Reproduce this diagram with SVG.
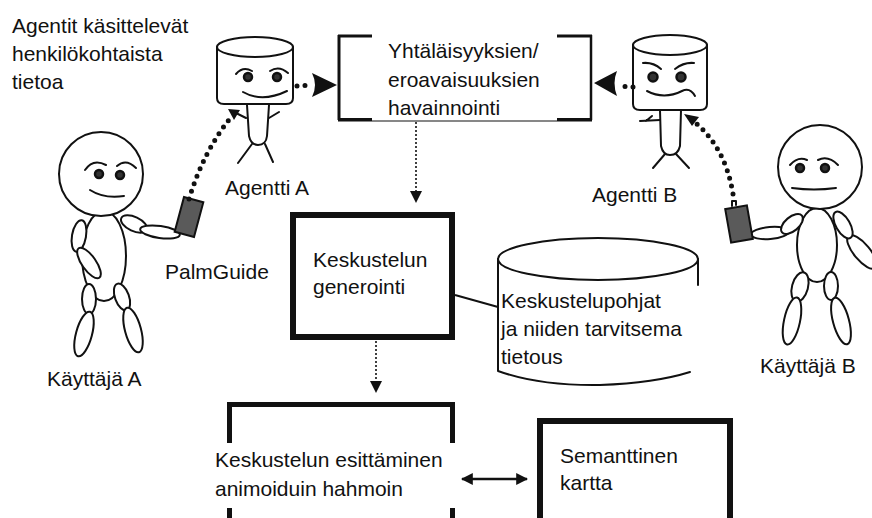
<svg xmlns="http://www.w3.org/2000/svg" width="872" height="518" viewBox="0 0 872 518">
  <defs>
    <style>
      text { font-family: "Liberation Sans", Arial, sans-serif; font-size: 21px; fill: #111; }
      .ln { fill: none; stroke: #111; stroke-width: 2; stroke-linecap: round; stroke-linejoin: round; }
      .limb { fill: #fff; stroke: #111; stroke-width: 2; }
      .eye { fill: #333; stroke: #111; stroke-width: 2.5; }
      .phone { fill: #5a5a5a; stroke: #111; stroke-width: 2; }
      .bigdots { fill: none; stroke: #111; stroke-width: 5; stroke-linecap: round; stroke-dasharray: 0 8; }
      .thin { fill: none; stroke: #111; stroke-width: 1.6; stroke-dasharray: 2 2; }
      .thick { fill: none; stroke: #111; stroke-width: 6; }
      .head { fill: #111; }
    </style>
    <marker id="tri" viewBox="0 0 10 10" refX="9" refY="5" markerWidth="10" markerHeight="10" markerUnits="userSpaceOnUse" orient="auto">
      <path d="M0,0 L10,5 L0,10 Z" fill="#111"/>
    </marker>
    <marker id="tri2" viewBox="0 0 10 10" refX="9" refY="5" markerWidth="12" markerHeight="12" markerUnits="userSpaceOnUse" orient="auto-start-reverse">
      <path d="M0,0 L10,5 L0,10 Z" fill="#111"/>
    </marker>
  </defs>

  <rect width="872" height="518" fill="#fff"/>

  <!-- caption -->
  <g id="caption">
    <text x="12" y="33">Agentit käsittelevät</text>
    <text x="12" y="61">henkilökohtaista</text>
    <text x="12" y="89">tietoa</text>
  </g>

  <!-- comparison box -->
  <g id="node-compare">
    <line x1="339" y1="35" x2="339" y2="120" stroke="#111" stroke-width="3"/>
    <line x1="591" y1="35" x2="591" y2="120" stroke="#111" stroke-width="2.5"/>
    <line x1="338" y1="36" x2="372" y2="36" stroke="#111" stroke-width="3"/>
    <line x1="557" y1="36" x2="592" y2="36" stroke="#111" stroke-width="3"/>
    <line x1="338" y1="121" x2="592" y2="121" stroke="#111" stroke-width="1.2"/>
    <line x1="338" y1="119.5" x2="372" y2="119.5" stroke="#111" stroke-width="3"/>
    <line x1="557" y1="119.5" x2="592" y2="119.5" stroke="#111" stroke-width="3"/>
    <text x="388" y="58">Yhtäläisyyksien/</text>
    <text x="388" y="87">eroavaisuuksien</text>
    <text x="388" y="115">havainnointi</text>
  </g>

  <!-- agent A -->
  <g id="node-agent-a">
    <path class="ln" d="M217,47 L217,98 Q217,104 224,104 L286,104 Q293,104 293,98 L293,47"/>
    <ellipse cx="255" cy="47" rx="38" ry="10" class="ln"/>
    <path class="ln" d="M236,74 Q243,66 252,71"/>
    <path class="ln" d="M270,71 Q279,65 288,73"/>
    <circle cx="248" cy="77" r="4" class="eye"/>
    <circle cx="277" cy="77" r="4" class="eye"/>
    <path class="ln" d="M243,92 Q262,103 287,91"/>
    <path class="ln" d="M247,105 L249,136 Q251,145 258,145 Q266,145 267,136 L269,105"/>
    <path class="ln" d="M252,144 L238,163 M265,144 L273,162"/>
    <path class="ln" d="M234,112 L246,118 M269,118 L279,112"/>
    <text x="225" y="195">Agentti A</text>
  </g>

  <!-- agent B -->
  <g id="node-agent-b">
    <path class="ln" d="M633,45 L633,104 Q633,110 640,110 L700,110 Q707,110 707,104 L707,45"/>
    <ellipse cx="670" cy="45" rx="37" ry="10" class="ln"/>
    <path class="ln" d="M643,63 Q653,62 661,69"/>
    <path class="ln" d="M675,69 Q684,62 694,63"/>
    <circle cx="653" cy="77" r="4.5" class="eye"/>
    <circle cx="681" cy="77" r="4.5" class="eye"/>
    <path class="ln" d="M647,91 Q664,100 682,91 Q690,87 695,96"/>
    <path class="ln" d="M660,110 L661,146 Q663,155 670,155 Q678,155 680,146 L681,110"/>
    <path class="ln" d="M665,154 L653,168 M676,154 L689,168"/>
    <path class="ln" d="M640,121 L660,120 M652,116 L646,121"/>
    <text x="592" y="202">Agentti B</text>
  </g>

  <!-- user A -->
  <g id="node-user-a">
    <ellipse cx="104" cy="256" rx="22" ry="45" class="limb"/>
    <ellipse cx="79" cy="236" rx="7" ry="16" transform="rotate(10 79 236)" class="limb"/>
    <ellipse cx="89" cy="263" rx="18" ry="7" transform="rotate(55 89 263)" class="limb"/>
    <ellipse cx="89" cy="299" rx="7" ry="15" class="limb"/>
    <ellipse cx="122" cy="297" rx="7" ry="14" transform="rotate(-20 122 297)" class="limb"/>
    <ellipse cx="84" cy="334" rx="8" ry="23" transform="rotate(15 84 334)" class="limb"/>
    <ellipse cx="133" cy="330" rx="8" ry="23" transform="rotate(-15 133 330)" class="limb"/>
    <ellipse cx="134" cy="224" rx="14" ry="7" transform="rotate(25 134 224)" class="limb"/>
    <ellipse cx="160" cy="232" rx="20" ry="6" transform="rotate(8 160 232)" class="limb"/>
    <circle cx="101" cy="174" r="42" class="limb"/>
    <path class="ln" d="M85,170 Q93,158 106,165"/>
    <path class="ln" d="M117,166 Q126,158 136,168"/>
    <circle cx="99" cy="174" r="4" class="eye"/>
    <circle cx="120" cy="175" r="4" class="eye"/>
    <path class="ln" d="M90,190 Q104,199 124,196"/>
    <rect x="179" y="199" width="20" height="36" transform="rotate(15 189 217)" class="phone"/>
    <text x="47" y="386">Käyttäjä A</text>
  </g>

  <text x="165" y="279">PalmGuide</text>

  <!-- user B -->
  <g id="node-user-b">
    <ellipse cx="817" cy="245" rx="20" ry="37" class="limb"/>
    <ellipse cx="800" cy="287" rx="8" ry="15" transform="rotate(15 800 287)" class="limb"/>
    <ellipse cx="831" cy="286" rx="7" ry="14" class="limb"/>
    <ellipse cx="792" cy="321" rx="8" ry="24" transform="rotate(12 792 321)" class="limb"/>
    <ellipse cx="841" cy="321" rx="8" ry="24" transform="rotate(-15 841 321)" class="limb"/>
    <ellipse cx="862" cy="252" rx="8" ry="21" transform="rotate(-40 862 252)" class="limb"/>
    <ellipse cx="843" cy="225" rx="7" ry="15" transform="rotate(-30 843 225)" class="limb"/>
    <ellipse cx="770" cy="233" rx="19" ry="6" transform="rotate(-5 770 233)" class="limb"/>
    <ellipse cx="792" cy="224" rx="13" ry="7" transform="rotate(-40 792 224)" class="limb"/>
    <circle cx="820" cy="167" r="42" class="limb"/>
    <path class="ln" d="M790,165 Q798,156 807,160"/>
    <path class="ln" d="M818,160 Q828,155 838,165"/>
    <circle cx="800" cy="168" r="4" class="eye"/>
    <circle cx="825" cy="168" r="4" class="eye"/>
    <path class="ln" d="M792,188 Q814,191 836,188"/>
    <rect x="728" y="207" width="22" height="34" transform="rotate(-10 739 224)" class="phone"/>
    <path class="ln" d="M732,206 L732,201 L736,201 L736,205"/>
    <text x="760" y="373">Käyttäjä B</text>
  </g>

  <!-- dialogue generation -->
  <g id="node-generate">
    <rect x="293" y="215" width="159" height="122" class="thick"/>
    <text x="313" y="267">Keskustelun</text>
    <text x="313" y="294">generointi</text>
  </g>

  <!-- template store -->
  <g id="node-templates">
    <ellipse cx="598" cy="259" rx="100" ry="21" class="ln"/>
    <path class="ln" d="M498,259 L498,371 Q540,386 600,385 Q655,383 690,372"/>
    <path class="ln" d="M698,259 L698,285"/>
    <text x="501" y="308">Keskustelupohjat</text>
    <text x="501" y="336">ja niiden tarvitsema</text>
    <text x="501" y="364">tietous</text>
  </g>

  <!-- presentation box -->
  <g id="node-present">
    <line x1="227" y1="404.5" x2="455" y2="404.5" stroke="#111" stroke-width="5"/>
    <line x1="229.5" y1="402" x2="229.5" y2="443" stroke="#111" stroke-width="5"/>
    <line x1="452.5" y1="402" x2="452.5" y2="443" stroke="#111" stroke-width="5"/>
    <line x1="229.5" y1="508" x2="229.5" y2="520" stroke="#111" stroke-width="5"/>
    <line x1="452.5" y1="508" x2="452.5" y2="520" stroke="#111" stroke-width="5"/>
    <text x="215" y="467">Keskustelun esittäminen</text>
    <text x="215" y="496">animoiduin hahmoin</text>
  </g>

  <!-- semantic map -->
  <g id="node-map">
    <rect x="540" y="421" width="190" height="110" class="thick"/>
    <text x="560" y="463">Semanttinen</text>
    <text x="560" y="490">kartta</text>
  </g>

  <!-- connectors -->
  <g id="connectors">
    <path class="bigdots" d="M189,199 Q204,150 232,116"/>
    <path d="M228,109 L240,110 L234,120 Z" fill="#111"/>
    <path class="bigdots" d="M733,194 Q726,150 697,124"/>
    <path d="M684,114 L699,117 L692,126 Z" fill="#111"/>
    <path class="bigdots" d="M297,86 L312,85"/>
    <path d="M312,73 L337,85 L312,97 Q318,85 312,73 Z" fill="#111"/>
    <path class="bigdots" d="M633,87 L620,86"/>
    <path d="M617,71 L594,83 L617,96 Q612,83 617,71 Z" fill="#111"/>
    <path class="thin" d="M416,122 L416,192"/>
    <path d="M410,191 L422,191 L416,203 Z" fill="#111"/>
    <path class="thin" d="M376,341 L376,382"/>
    <path d="M370,381 L382,381 L376,393 Z" fill="#111"/>
    <line x1="455" y1="295" x2="498" y2="307" stroke="#111" stroke-width="2"/>
    <line x1="462" y1="479" x2="527" y2="479" stroke="#111" stroke-width="2.5" marker-start="url(#tri2)" marker-end="url(#tri2)"/>
  </g>
</svg>
